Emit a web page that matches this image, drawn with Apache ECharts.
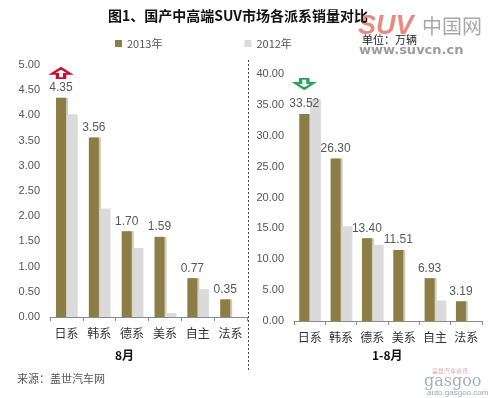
<!DOCTYPE html>
<html>
<head>
<meta charset="utf-8">
<script src="https://cdn.jsdelivr.net/npm/echarts@6/dist/echarts.min.js"></script>
<style>html,body{margin:0;padding:0;background:#fff;}#c{width:500px;height:398px;}</style>
</head>
<body>
<div id="c"></div>
<script>
var categories = ['日系', '韩系', '德系', '美系', '自主', '法系'];
var aug2013 = [4.35, 3.56, 1.70, 1.59, 0.77, 0.35];
var aug2012 = [4.02, 2.15, 1.37, 0.08, 0.55, 0];
var ytd2013 = [33.52, 26.30, 13.40, 11.51, 6.93, 3.19];
var ytd2012 = [35.9, 15.3, 12.3, 0, 3.3, 0];
var leftTicks = {min: 0, max: 5, interval: 0.5};
var rightTicks = {min: 0, max: 40, interval: 5};

var FONT = '"Liberation Sans", "Noto Sans CJK SC", sans-serif';
var CJK = '"Noto Sans CJK SC", sans-serif';
var OLIVE = '#8b7d45';
var GREY = '#dadada';
var upArrow = 'path://M10,0 L20,7 L14,7 L14,12 L6,12 L6,7 L0,7 Z';
var downArrow = 'path://M6,0 L14,0 L14,5 L20,5 L10,12 L0,5 L6,5 Z';

function xAx(idx) {
  return {
    type: 'category', gridIndex: idx, data: categories,
    axisLine: {lineStyle: {color: '#8a8a8a', width: 1}},
    axisTick: {show: true, length: 4, inside: false, lineStyle: {color: '#8a8a8a'}},
    axisLabel: {color: '#333', fontSize: 12, fontFamily: CJK, margin: 10}
  };
}
function yAx(idx, t) {
  return {
    type: 'value', gridIndex: idx, min: t.min, max: t.max, interval: t.interval,
    axisLine: {show: false}, axisTick: {show: false}, splitLine: {show: false},
    axisLabel: {color: '#555', fontSize: 11, fontFamily: FONT, margin: 10,
      formatter: function (v) { return v.toFixed(2); }}
  };
}
var lbl = {show: true, position: 'top', distance: 4, color: '#595959', fontSize: 12, fontFamily: FONT,
  formatter: function (p) { return p.value.toFixed(2); }};
var shadow2013 = {color: OLIVE, shadowColor: 'rgba(170,160,110,0.55)', shadowOffsetX: 2, shadowBlur: 0};
var shadow2012 = {color: GREY, shadowColor: 'rgba(200,200,200,0.6)', shadowOffsetX: 1, shadowBlur: 0};

var chart = echarts.init(document.getElementById('c'), null, {renderer: 'canvas'});
chart.setOption({
  animation: false,
  backgroundColor: '#fff',
  title: {
    text: '图1、国产中高端SUV市场各派系销量对比', left: 103, top: 4,
    textStyle: {fontSize: 14, fontWeight: 'bold', color: '#111', fontFamily: CJK}
  },
  legend: {
    left: 110, top: 33, itemWidth: 7, itemHeight: 7, itemGap: 82, icon: 'rect',
    data: ['2013年', '2012年'],
    textStyle: {color: '#555', fontSize: 11, fontFamily: CJK}
  },
  grid: [
    {left: 50, top: 65, width: 197, height: 252},
    {left: 294, top: 74, width: 188, height: 247}
  ],
  xAxis: [xAx(0), xAx(1)],
  yAxis: [yAx(0, leftTicks), yAx(1, rightTicks)],
  series: [
    {name: '2013年', type: 'bar', xAxisIndex: 0, yAxisIndex: 0, data: aug2013, barWidth: 10, barGap: '8%',
      itemStyle: shadow2013, label: lbl,
      markPoint: {silent: true, label: {show: false},
        data: [{coord: [0, 4.84], symbol: upArrow, symbolSize: [18, 10],
          itemStyle: {color: '#fff', borderColor: '#c8102e', borderWidth: 2.5}}]}},
    {name: '2012年', type: 'bar', xAxisIndex: 0, yAxisIndex: 0, data: aug2012, barWidth: 10, barGap: '8%',
      itemStyle: shadow2012},
    {name: '2013年', type: 'bar', xAxisIndex: 1, yAxisIndex: 1, data: ytd2013, barWidth: 10, barGap: '8%',
      itemStyle: shadow2013, label: lbl,
      markPoint: {silent: true, label: {show: false},
        data: [{coord: [0, 38.4], symbol: downArrow, symbolSize: [18, 10],
          itemStyle: {color: '#fff', borderColor: '#27a35a', borderWidth: 2.5}}]}},
    {name: '2012年', type: 'bar', xAxisIndex: 1, yAxisIndex: 1, data: ytd2012, barWidth: 10, barGap: '8%',
      itemStyle: shadow2012}
  ],
  graphic: [
    {type: 'line', shape: {x1: 248.5, y1: 60, x2: 248.5, y2: 372}, silent: true,
      style: {stroke: '#444', lineWidth: 1, lineDash: [2, 2]}},
    {type: 'text', left: 115, top: 349, style: {text: '8月', fill: '#111', font: 'bold 12px ' + CJK}},
    {type: 'text', left: 372, top: 349, style: {text: '1-8月', fill: '#111', font: 'bold 12px ' + CJK}},
    {type: 'text', left: 17, top: 373, style: {text: '来源：盖世汽车网', fill: '#555', font: '11px ' + CJK}},
    {type: 'text', left: 358, top: 13, z: 1, style: {text: 'SUV', fill: 'rgba(220,60,40,0.6)', font: 'italic bold 27px "Liberation Sans", sans-serif'}},
    {type: 'text', left: 422, top: 16, z: 1, style: {text: '中国网', fill: 'rgba(110,110,110,0.6)', font: '20px ' + CJK}},
    {type: 'text', left: 359, top: 44, z: 1, style: {text: 'www.suvcn.cn', fill: 'rgba(90,90,90,0.6)', font: 'bold 13px "DejaVu Sans", sans-serif'}},
    {type: 'text', left: 362, top: 34, z: 2, style: {text: '单位：万辆', fill: '#222', font: '11px ' + CJK}},
    {type: 'text', left: 432, top: 368, style: {text: '盖世汽车资讯', fill: 'rgba(200,80,80,0.5)', font: '6px ' + CJK}},
    {type: 'text', left: 424, top: 374, style: {text: 'gasgoo', fill: 'rgba(120,130,150,0.65)', font: '16px "DejaVu Serif", serif'}},
    {type: 'text', left: 427, top: 389, style: {text: 'auto.gasgoo.com', fill: 'rgba(130,140,160,0.8)', font: '8px "Liberation Sans", sans-serif'}}
  ]
});
</script>
</body>
</html>
